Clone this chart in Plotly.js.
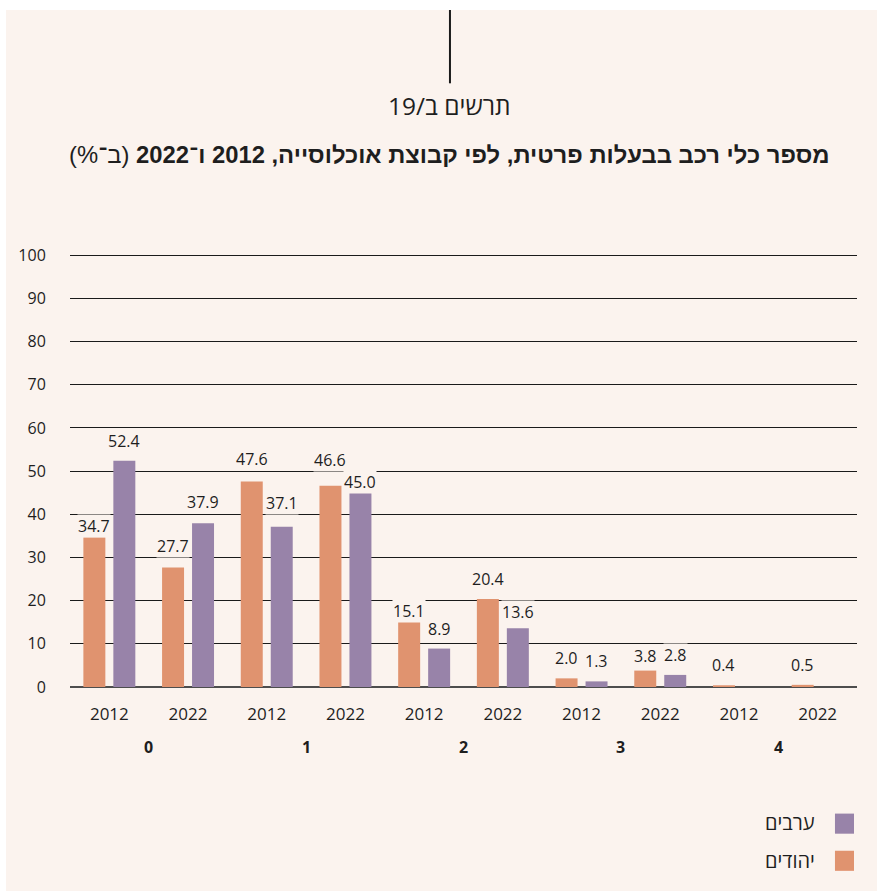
<!DOCTYPE html>
<html>
<head>
<meta charset="utf-8">
<script src="https://cdn.plot.ly/plotly-3.0.1.min.js"></script>
<style>
  html, body { margin: 0; padding: 0; background: #ffffff; }
  #chart { position: absolute; left: 6px; top: 10px; width: 871px; height: 881px; }
</style>
</head>
<body>
<div id="chart"></div>
<script>
// ---- data ----
const groups = ["0", "1", "2", "3", "4"];
const years = ["2012", "2022"];
const jewsValues = [34.7, 27.7, 47.6, 46.6, 15.1, 20.4, 2.0, 3.8, 0.4, 0.5];
const arabsValues = [52.4, 37.9, 37.1, 45.0, 8.9, 13.6, 1.3, 2.8, null, null];
const jewsName = "יהודים";
const arabsName = "ערבים";
const titleBold = "מספר כלי רכב בבעלות פרטית, לפי קבוצת אוכלוסייה, 2012 ו־2022";
const titleUnit = "(ב־%)";
const chartLabel = "תרשים ב/19";
const yTicks = [0, 10, 20, 30, 40, 50, 60, 70, 80, 90, 100];

// ---- styles ----
const BG = "#FBF3EE";
const ORANGE = "#E0936F";
const PURPLE = "#9883A9";
const TXT = "#1e1e1e";
const NUMFONT = "Open Sans, Noto Sans, DejaVu Sans, sans-serif";
const HEBFONT = "Open Sans, Liberation Sans, DejaVu Sans, sans-serif";
const RLM = "\u200F";

const W = 871, H = 881;
const M = { l: 64, r: 20, t: 243, b: 204 };
const YMAX = 100.5;
const PX_PER_UNIT = (H - M.t - M.b) / YMAX;

const xIdx = [];
const xText = [];
groups.forEach((g, gi) => years.forEach((y, yi) => { xIdx.push(gi * years.length + yi); xText.push(y); }));

const BARGAP = 0.238;
const slot = (1 - BARGAP) / 2;

const traces = [
  { type: "bar", name: jewsName, x: xIdx, y: jewsValues, marker: { color: ORANGE }, hoverinfo: "y" },
  { type: "bar", name: arabsName, x: xIdx, y: arabsValues, marker: { color: PURPLE }, hoverinfo: "y" }
];

// label placement: prefer ~20px above bar, but keep labels off the gridlines
const PREF = 20, MINS = 11, MAXS = 30, CLEAR = 11;
function labelShift(v) {
  const distToGrid = (c) => Math.abs(c - Math.round(c / 10) * 10) * PX_PER_UNIT;
  let best = null, bestScore = Infinity, fallback = MINS, fallbackDist = -1;
  for (let s = MINS; s <= MAXS; s++) {
    const d = distToGrid(v + s / PX_PER_UNIT);
    if (d >= CLEAR && Math.abs(s - PREF) < bestScore) { best = s; bestScore = Math.abs(s - PREF); }
    if (d > fallbackDist) { fallbackDist = d; fallback = s; }
  }
  return best !== null ? best : fallback;
}

const annotations = [];
[jewsValues, arabsValues].forEach((vals, ti) => {
  const off = (ti === 0 ? -1 : 1) * slot / 2;
  vals.forEach((v, i) => {
    if (v === null || v === undefined) return;
    annotations.push({
      x: xIdx[i] + off, y: v, xref: "x", yref: "y",
      text: v.toFixed(1), showarrow: false,
      yanchor: "middle", yshift: labelShift(v),
      bgcolor: BG, borderpad: 0,
      font: { family: NUMFONT, size: 16, color: TXT }
    });
  });
});
// group labels
groups.forEach((g, gi) => {
  annotations.push({
    x: gi * years.length + 0.5, xref: "x", y: -0.139, yref: "paper",
    text: "<b>" + g + "</b>", showarrow: false, yanchor: "middle",
    font: { family: NUMFONT, size: 16, color: TXT }
  });
});
// chart label
annotations.push({
  x: 0.4828, xref: "paper", y: 1.3403, yref: "paper",
  text: RLM + chartLabel + RLM, showarrow: false, yanchor: "middle",
  font: { family: HEBFONT, size: 24.5, color: TXT }
});
// legend (right-to-left: swatch on the right)
const legendItems = [
  { name: arabsName, color: PURPLE, y0: -0.338, y1: -0.2917, ty: -0.3125 },
  { name: jewsName, color: ORANGE, y0: -0.4236, y1: -0.3773, ty: -0.4005 }
];
const shapes = [
  { type: "line", xref: "paper", yref: "paper", x0: 0.4828, x1: 0.4828, y0: 1.391, y1: 1.5671,
    line: { color: "#1a1a1a", width: 2 } }
];
legendItems.forEach(it => {
  shapes.push({ type: "rect", xref: "paper", yref: "paper", x0: 0.972, x1: 0.9962, y0: it.y0, y1: it.y1,
    fillcolor: it.color, line: { width: 0 } });
  annotations.push({ x: 0.9492, xref: "paper", y: it.ty, yref: "paper", xanchor: "right", yanchor: "middle",
    text: RLM + it.name + RLM, showarrow: false, font: { family: HEBFONT, size: 20, color: TXT } });
});

const layout = {
  width: W, height: H,
  paper_bgcolor: BG, plot_bgcolor: "rgba(0,0,0,0)",
  margin: M,
  showlegend: false,
  barmode: "group", bargap: BARGAP, bargroupgap: 0.267,
  title: {
    text: RLM + "<b>" + titleBold + "</b> " + titleUnit + RLM,
    xref: "container", yref: "container", x: 0.509, y: 0.8354, xanchor: "center", yanchor: "middle",
    font: { family: "Liberation Sans, Arial, sans-serif", size: 23.8, color: TXT }
  },
  xaxis: {
    type: "linear", range: [-0.5, 9.5], tickmode: "array", tickvals: xIdx, ticktext: xText,
    showgrid: false, zeroline: false, showline: false,
    ticks: "outside", ticklen: 12, tickcolor: "rgba(0,0,0,0)",
    tickfont: { family: NUMFONT, size: 17, color: TXT }, fixedrange: true
  },
  yaxis: {
    range: [0, YMAX], tickmode: "array", tickvals: yTicks,
    showgrid: true, gridcolor: "#1a1a1a", gridwidth: 1,
    zeroline: true, zerolinecolor: "#4d4d4d", zerolinewidth: 2, showline: false,
    ticks: "outside", ticklen: 20, tickcolor: "rgba(0,0,0,0)",
    tickfont: { family: NUMFONT, size: 16, color: TXT }, fixedrange: true
  },
  annotations: annotations,
  shapes: shapes
};

Plotly.newPlot("chart", traces, layout, { displayModeBar: false, staticPlot: true });
</script>
</body>
</html>
